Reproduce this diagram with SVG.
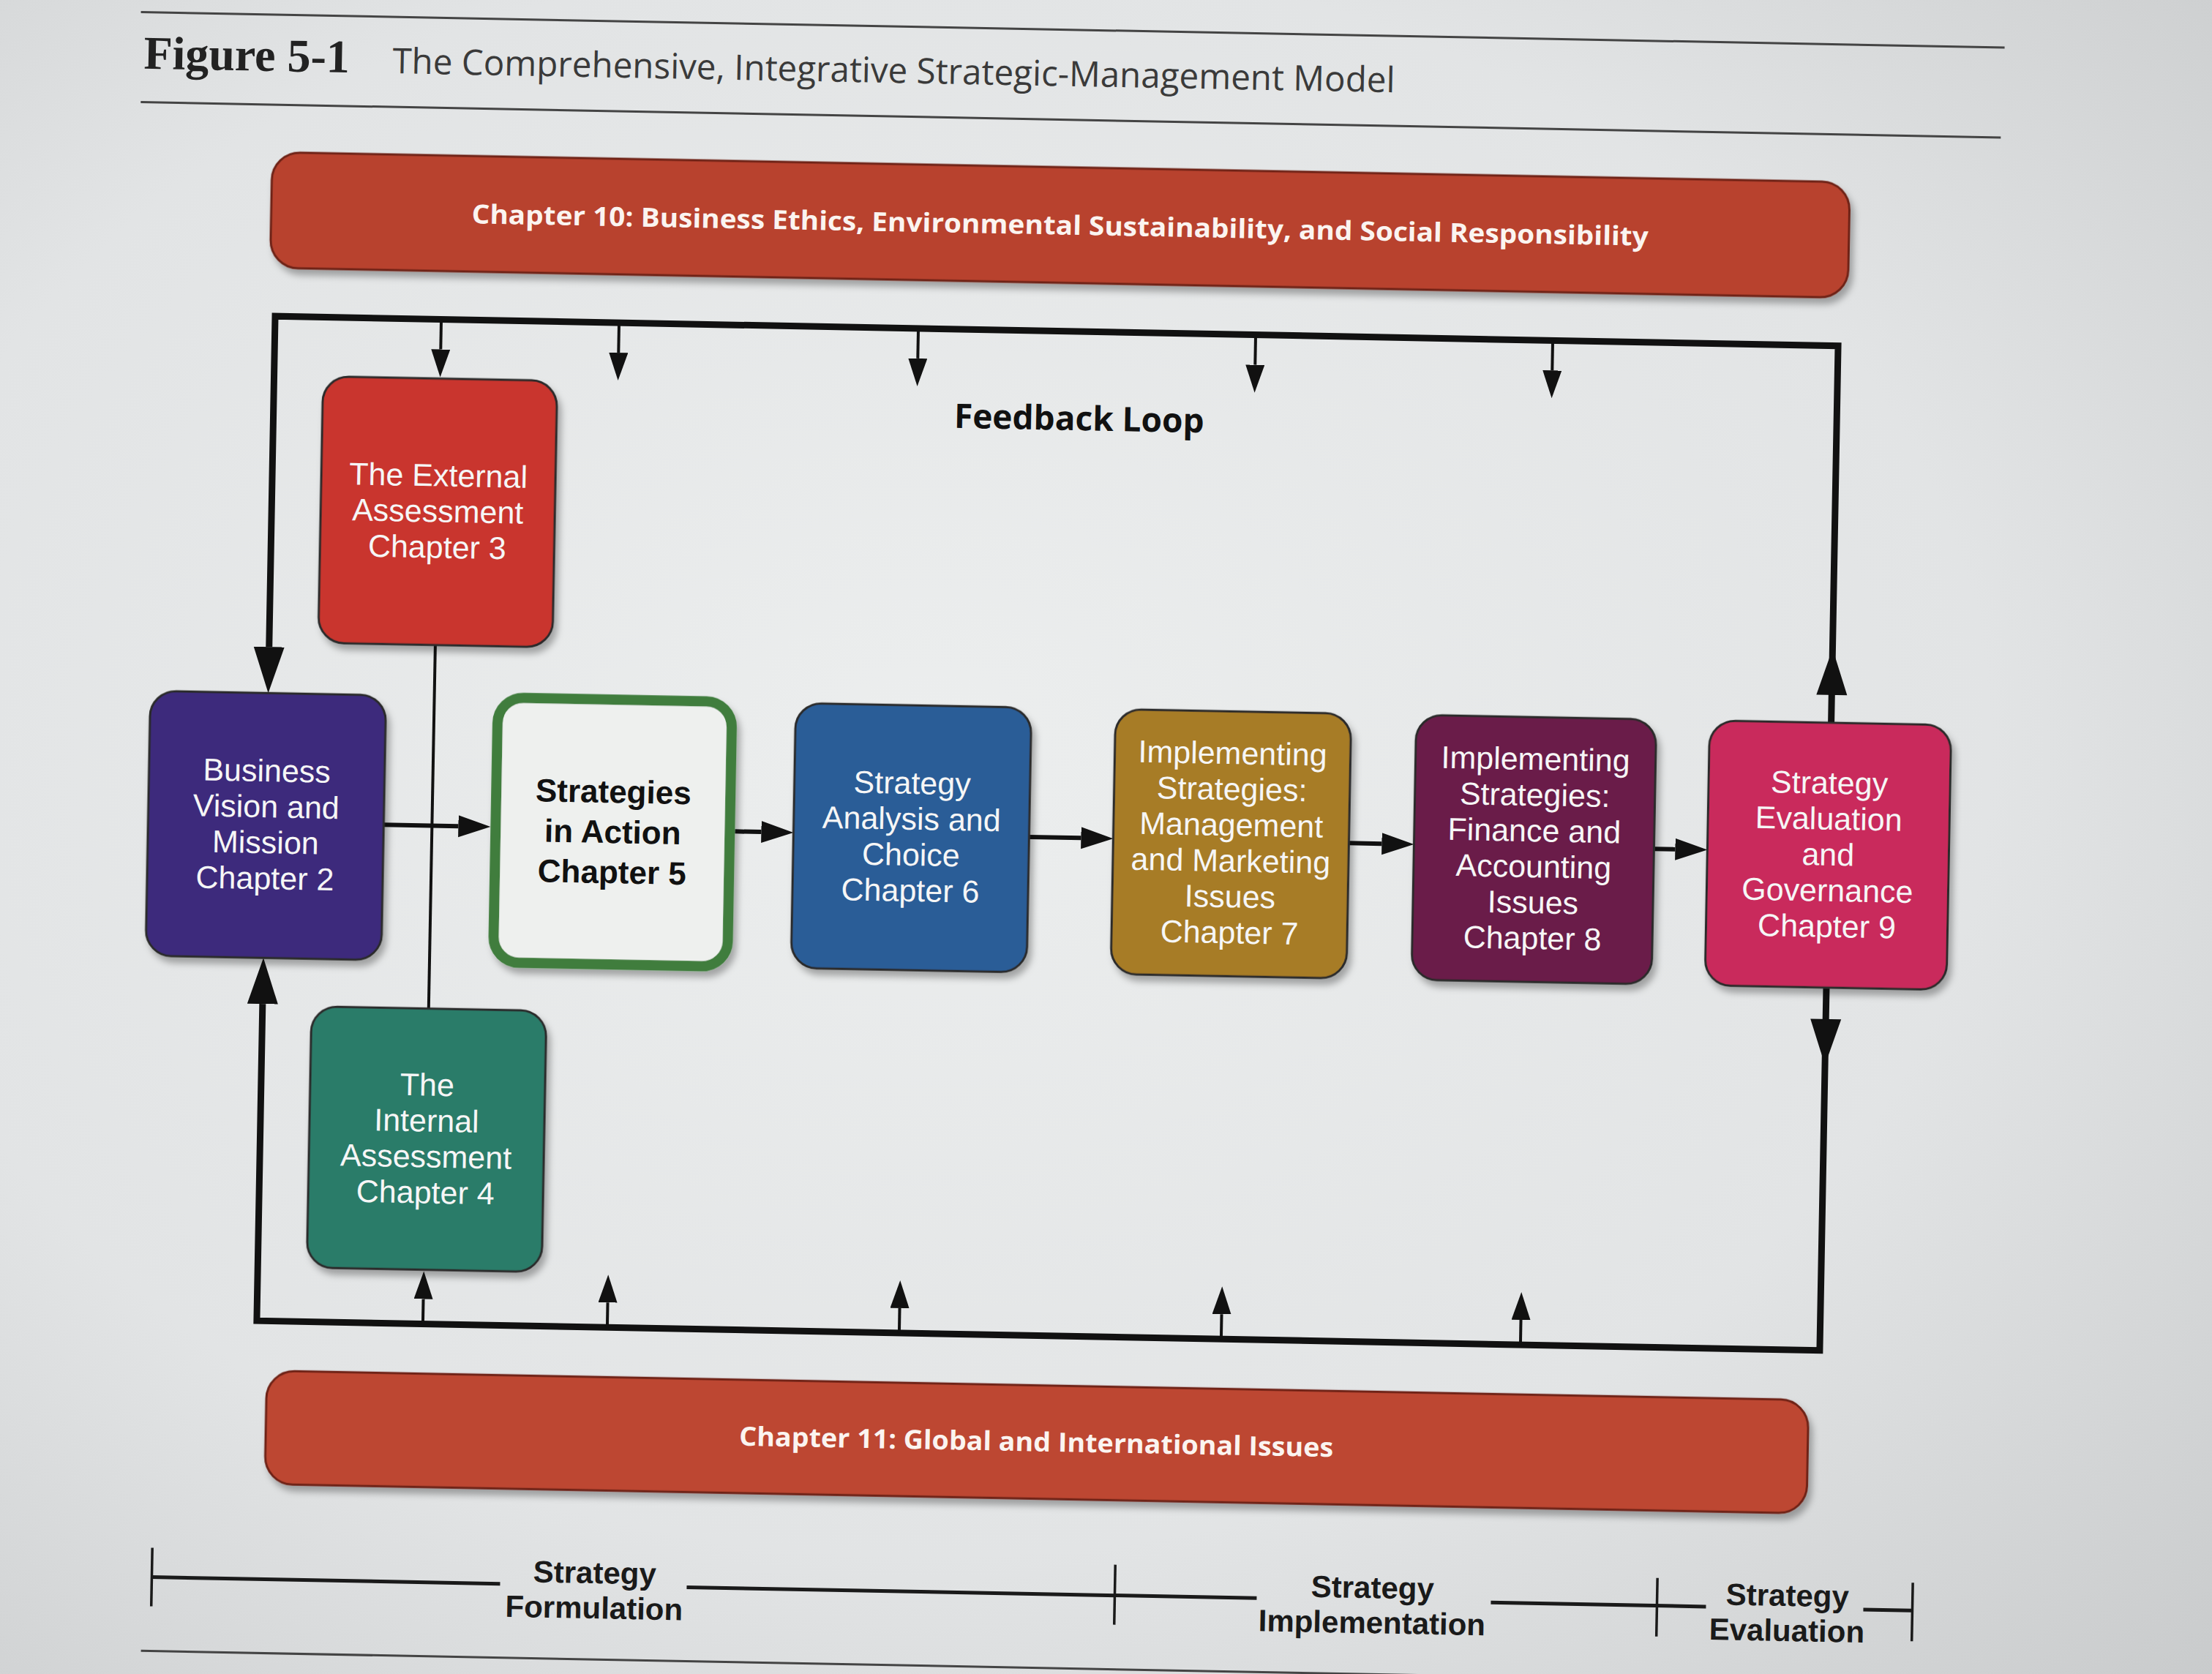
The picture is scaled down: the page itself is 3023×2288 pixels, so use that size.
<svg xmlns="http://www.w3.org/2000/svg" width="3023" height="2288" viewBox="0 0 3023 2288">
  <defs>
    <radialGradient id="bg" cx="0.42" cy="0.45" r="0.8">
      <stop offset="0" stop-color="#eceeee"/>
      <stop offset="0.6" stop-color="#e2e4e5"/>
      <stop offset="1" stop-color="#c9cbcc"/>
    </radialGradient>
    <filter id="sh" x="-10%" y="-10%" width="125%" height="130%">
      <feDropShadow dx="5" dy="8" stdDeviation="5" flood-color="#000" flood-opacity="0.3"/>
    </filter>
    <marker id="big" markerUnits="userSpaceOnUse" markerWidth="64" markerHeight="44" refX="0" refY="21" orient="auto">
      <path d="M0,0 L63,21 L0,42 z" fill="#111"/>
    </marker>
    <marker id="med" markerUnits="userSpaceOnUse" markerWidth="46" markerHeight="32" refX="0" refY="15" orient="auto">
      <path d="M0,0 L44,15 L0,30 z" fill="#111"/>
    </marker>
    <marker id="sm" markerUnits="userSpaceOnUse" markerWidth="40" markerHeight="28" refX="0" refY="13" orient="auto">
      <path d="M0,0 L38,13 L0,26 z" fill="#111"/>
    </marker>
    <style>
      .box { stroke:#2b2b2b; stroke-width:3; filter:url(#sh); }
      .bt { font-family:"Liberation Sans",Arial,"DejaVu Sans",sans-serif; font-size:43px; fill:#f6f6f6; text-anchor:middle; }
      .bk { font-family:"Liberation Sans",Arial,"DejaVu Sans",sans-serif; font-size:44px; font-weight:bold; fill:#111; text-anchor:middle; }
      .ban { font-family:"Open Sans","Noto Sans","DejaVu Sans",sans-serif; font-size:36px; font-weight:bold; fill:#fbf4f0; text-anchor:middle; }
      .ph { font-family:"Liberation Sans",Arial,"DejaVu Sans",sans-serif; font-size:42px; font-weight:bold; fill:#1a1a1a; text-anchor:middle; }
      .rule { stroke:#444; stroke-width:3; fill:none; }
      .loop { stroke:#111; stroke-width:9; fill:none; stroke-linejoin:miter; }
      .flow { stroke:#111; stroke-width:6; fill:none; }
      .spoke { stroke:#111; stroke-width:4; fill:none; }
      .bar { stroke:#1a1a1a; stroke-width:5; fill:none; }
      .tick { stroke:#1a1a1a; stroke-width:3.5; fill:none; }
    </style>
  </defs>

  <rect x="0" y="0" width="3023" height="2288" fill="url(#bg)"/>

  <g id="diagram" transform="matrix(1,0.019,-0.0183,1,7.94,-6.95)">
    <g id="title">
      <line class="rule" x1="185" y1="20" x2="2732" y2="20"/>
      <text x="190" y="97" font-family="Liberation Serif, DejaVu Serif, serif" font-size="64" font-weight="bold" fill="#222">Figure 5-1</text>
      <text x="530" y="97" font-family="Open Sans, Noto Sans, sans-serif" font-size="48" fill="#3a3a3a" textLength="1370" lengthAdjust="spacingAndGlyphs">The Comprehensive, Integrative Strategic-Management Model</text>
      <line class="rule" x1="187" y1="143" x2="2729" y2="143"/>
    </g>

    <g id="ch10">
      <rect x="368" y="208" width="2156" height="158" rx="38" fill="#b8432f" stroke="#6e2318" stroke-width="3" filter="url(#sh)"/>
      <text class="ban" x="1446" y="300" textLength="1608" lengthAdjust="spacingAndGlyphs">Chapter 10: Business Ethics, Environmental Sustainability, and Social Responsibility</text>
    </g>

    <g id="connectors">
      <path class="loop" d="M2512,947 L2512,432 L376,432 L376,884" marker-end="url(#big)"/>
      <path class="loop" d="M2512,1309 L2512,1805 L376,1805 L376,1372" marker-end="url(#big)"/>
      <polygon points="2512,846 2491,909 2533,909" fill="#111"/>
      <polygon points="2512,1415 2491,1352 2533,1352" fill="#111"/>
      <line class="spoke" x1="603" y1="432" x2="603" y2="473" marker-end="url(#sm)"/>
      <line class="spoke" x1="846" y1="432" x2="846" y2="473" marker-end="url(#sm)"/>
      <line class="spoke" x1="1255" y1="432" x2="1255" y2="473" marker-end="url(#sm)"/>
      <line class="spoke" x1="1716" y1="432" x2="1716" y2="473" marker-end="url(#sm)"/>
      <line class="spoke" x1="2122" y1="432" x2="2122" y2="473" marker-end="url(#sm)"/>
      <line class="spoke" x1="603" y1="1805" x2="603" y2="1771" marker-end="url(#sm)"/>
      <line class="spoke" x1="855" y1="1805" x2="855" y2="1771" marker-end="url(#sm)"/>
      <line class="spoke" x1="1254" y1="1805" x2="1254" y2="1771" marker-end="url(#sm)"/>
      <line class="spoke" x1="1694" y1="1805" x2="1694" y2="1771" marker-end="url(#sm)"/>
      <line class="spoke" x1="2103" y1="1805" x2="2103" y2="1771" marker-end="url(#sm)"/>
      <line class="spoke" x1="603" y1="877" x2="603" y2="1374"/>
      <line class="flow" x1="537" y1="1124" x2="639" y2="1124" marker-end="url(#med)"/>
      <line class="flow" x1="1017" y1="1124" x2="1053" y2="1124" marker-end="url(#med)"/>
      <line class="flow" x1="1419" y1="1124" x2="1490" y2="1124" marker-end="url(#med)"/>
      <line class="flow" x1="1856" y1="1124" x2="1901" y2="1124" marker-end="url(#med)"/>
      <line class="flow" x1="2273" y1="1124" x2="2302" y2="1124" marker-end="url(#med)"/>
    </g>

    <text x="1477" y="567" font-family="Open Sans, Noto Sans, sans-serif" font-size="46" font-weight="bold" fill="#111" text-anchor="middle">Feedback Loop</text>

    <g id="ch3">
      <rect class="box" x="443" y="513" width="320" height="364" rx="35" fill="#c9342f"/>
      <text class="bt" x="603" y="660">The External</text>
      <text class="bt" x="603" y="709">Assessment</text>
      <text class="bt" x="603" y="758">Chapter 3</text>
    </g>

    <g id="ch2">
      <rect class="box" x="215" y="947" width="322" height="362" rx="35" fill="#3d2c7c"/>
      <text class="bt" x="376" y="1068">Business</text>
      <text class="bt" x="376" y="1117">Vision and</text>
      <text class="bt" x="376" y="1166">Mission</text>
      <text class="bt" x="376" y="1215">Chapter 2</text>
    </g>

    <g id="ch5">
      <rect x="690" y="947" width="320" height="362" rx="35" fill="#eef0ee" stroke="#3f7d3c" stroke-width="14" filter="url(#sh)"/>
      <text class="bk" x="850" y="1088">Strategies</text>
      <text class="bk" x="850" y="1143">in Action</text>
      <text class="bk" x="850" y="1198">Chapter 5</text>
    </g>

    <g id="ch4">
      <rect class="box" x="443" y="1374" width="321" height="357" rx="35" fill="#2a7b69"/>
      <text class="bt" x="603" y="1493">The</text>
      <text class="bt" x="603" y="1542">Internal</text>
      <text class="bt" x="603" y="1591">Assessment</text>
      <text class="bt" x="603" y="1640">Chapter 4</text>
    </g>

    <g id="ch6">
      <rect class="box" x="1097" y="947" width="322" height="362" rx="35" fill="#2b5d97"/>
      <text class="bt" x="1258" y="1068">Strategy</text>
      <text class="bt" x="1258" y="1117">Analysis and</text>
      <text class="bt" x="1258" y="1166">Choice</text>
      <text class="bt" x="1258" y="1215">Chapter 6</text>
    </g>

    <g id="ch7">
      <rect class="box" x="1534" y="947" width="322" height="362" rx="35" fill="#a77b26"/>
      <text class="bt" x="1695" y="1019">Implementing</text>
      <text class="bt" x="1695" y="1068">Strategies:</text>
      <text class="bt" x="1695" y="1117">Management</text>
      <text class="bt" x="1695" y="1166">and Marketing</text>
      <text class="bt" x="1695" y="1215">Issues</text>
      <text class="bt" x="1695" y="1264">Chapter 7</text>
    </g>

    <g id="ch8">
      <rect class="box" x="1945" y="947" width="328" height="362" rx="35" fill="#6b1d4a"/>
      <text class="bt" x="2109" y="1019">Implementing</text>
      <text class="bt" x="2109" y="1068">Strategies:</text>
      <text class="bt" x="2109" y="1117">Finance and</text>
      <text class="bt" x="2109" y="1166">Accounting</text>
      <text class="bt" x="2109" y="1215">Issues</text>
      <text class="bt" x="2109" y="1264">Chapter 8</text>
    </g>

    <g id="ch9">
      <rect class="box" x="2346" y="947" width="330" height="362" rx="35" fill="#c92a5b"/>
      <text class="bt" x="2511" y="1044">Strategy</text>
      <text class="bt" x="2511" y="1093">Evaluation</text>
      <text class="bt" x="2511" y="1142">and</text>
      <text class="bt" x="2511" y="1191">Governance</text>
      <text class="bt" x="2511" y="1240">Chapter 9</text>
    </g>

    <g id="ch11">
      <rect x="391" y="1873" width="2107" height="155" rx="38" fill="#bd4630" stroke="#6e2318" stroke-width="3" filter="url(#sh)"/>
      <text class="ban" x="1444" y="1963" textLength="812" lengthAdjust="spacingAndGlyphs">Chapter 11: Global and International Issues</text>
    </g>

    <g id="phases">
      <line class="tick" x1="239" y1="2118" x2="239" y2="2198"/>
      <line class="bar" x1="239" y1="2158" x2="715" y2="2158"/>
      <text class="ph" x="844" y="2155">Strategy</text>
      <text class="ph" x="844" y="2203">Formulation</text>
      <line class="bar" x1="970" y1="2158" x2="1749" y2="2158"/>
      <line class="tick" x1="1555" y1="2116" x2="1555" y2="2198"/>
      <text class="ph" x="1907" y="2155">Strategy</text>
      <text class="ph" x="1907" y="2203">Implementation</text>
      <line class="bar" x1="2069" y1="2158" x2="2363" y2="2158"/>
      <line class="tick" x1="2296" y1="2120" x2="2296" y2="2200"/>
      <text class="ph" x="2474" y="2155">Strategy</text>
      <text class="ph" x="2474" y="2203">Evaluation</text>
      <line class="bar" x1="2578" y1="2158" x2="2645" y2="2158"/>
      <line class="tick" x1="2645" y1="2120" x2="2645" y2="2200"/>
      <line class="rule" x1="226" y1="2259" x2="2740" y2="2259"/>
    </g>
  </g>
</svg>
